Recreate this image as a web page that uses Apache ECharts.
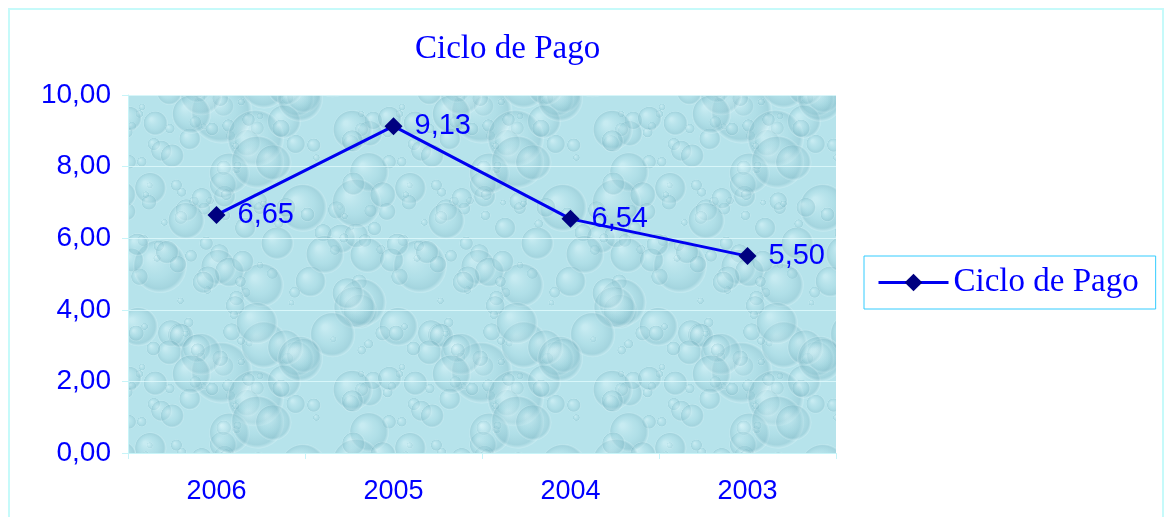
<!DOCTYPE html>
<html>
<head>
<meta charset="utf-8">
<title>Ciclo de Pago</title>
<script src="https://cdn.jsdelivr.net/npm/echarts@6/dist/echarts.min.js"></script>
<style>
  html, body { margin: 0; padding: 0; background: #fff; }
  #chart { width: 1165px; height: 517px; }
</style>
</head>
<body>
<div id="chart"></div>
<script>
// datos
var years = ['2006', '2005', '2004', '2003'];
var cicloPago = [6.65, 9.13, 6.54, 5.50];
var seriesName = 'Ciclo de Pago';

function fmt(v) {
  return v.toFixed(2).replace('.', ',');
}

// textura de gotas para el fondo del área de trazado
function dropTexture() {
  var c = document.createElement('canvas');
  c.width = 260;
  c.height = 260;
  var ctx = c.getContext('2d');
  ctx.fillStyle = '#b6e3eb';
  ctx.fillRect(0, 0, 260, 260);
  var seed = 11;
  function rnd() {
    seed = (seed * 16807) % 2147483647;
    return seed / 2147483647;
  }
  for (var i = 0; i < 160; i++) {
    var x = rnd() * 260, y = rnd() * 260, r = 3 + rnd() * rnd() * 30;
    for (var dx = -260; dx <= 260; dx += 260) {
      for (var dy = -260; dy <= 260; dy += 260) {
        var g = ctx.createRadialGradient(x + dx - r * 0.35, y + dy - r * 0.35, r * 0.1, x + dx, y + dy, r);
        g.addColorStop(0, 'rgba(230,250,253,0.35)');
        g.addColorStop(0.55, 'rgba(160,212,222,0.25)');
        g.addColorStop(0.88, 'rgba(120,178,192,0.3)');
        g.addColorStop(1, 'rgba(230,250,253,0.35)');
        ctx.fillStyle = g;
        ctx.beginPath();
        ctx.arc(x + dx, y + dy, r, 0, Math.PI * 2);
        ctx.fill();
      }
    }
  }
  return c;
}

var chart = echarts.init(document.getElementById('chart'));

chart.setOption({
  animation: false,
  title: {
    text: 'Ciclo de Pago',
    left: 410,
    top: 28,
    textStyle: {
      fontFamily: 'Liberation Serif',
      fontSize: 33,
      fontWeight: 'normal',
      color: '#0000ff'
    }
  },
  graphic: [{
    type: 'rect',
    shape: { x: 9, y: 9, width: 1154, height: 520 },
    style: { fill: 'none', stroke: '#c6fafa', lineWidth: 2 },
    silent: true
  }],
  legend: {
    data: [seriesName],
    left: 864,
    top: 256,
    padding: [10, 17, 10, 13],
    itemWidth: 70,
    itemHeight: 22,
    borderColor: '#33ccff',
    borderWidth: 1,
    lineStyle: { width: 3 },
    textStyle: {
      fontFamily: 'Liberation Serif',
      fontSize: 33,
      color: '#0000ff'
    }
  },
  grid: {
    left: 128,
    top: 95,
    width: 708,
    height: 358,
    show: true,
    borderWidth: 0,
    backgroundColor: { image: dropTexture(), repeat: 'repeat' }
  },
  xAxis: {
    type: 'category',
    data: years,
    boundaryGap: true,
    axisLine: { show: true, lineStyle: { color: '#c8f4f8', width: 1 } },
    axisTick: { show: true, length: 6, lineStyle: { color: '#c8f4f8' } },
    axisLabel: {
      margin: 25,
      fontFamily: 'Liberation Sans',
      fontSize: 27,
      color: '#0000ff'
    }
  },
  yAxis: {
    type: 'value',
    min: 0,
    max: 10,
    interval: 2,
    axisLine: { show: true, lineStyle: { color: '#c8f4f8' } },
    axisTick: { show: true, length: 6, lineStyle: { color: '#c8f4f8' } },
    splitLine: { show: true, lineStyle: { color: 'rgba(225,250,252,0.8)', width: 1 } },
    axisLabel: {
      margin: 17,
      fontFamily: 'Liberation Sans',
      fontSize: 28,
      color: '#0000ff',
      formatter: function (v) { return fmt(v); }
    }
  },
  series: [{
    name: seriesName,
    type: 'line',
    data: cicloPago,
    symbol: 'diamond',
    symbolSize: 18,
    lineStyle: { color: '#0000f0', width: 3 },
    itemStyle: { color: '#000080' },
    label: {
      show: true,
      position: 'right',
      distance: 12,
      fontFamily: 'Liberation Sans',
      fontSize: 29,
      color: '#0000ff',
      formatter: function (p) { return fmt(p.value); }
    }
  }]
});
</script>
</body>
</html>
